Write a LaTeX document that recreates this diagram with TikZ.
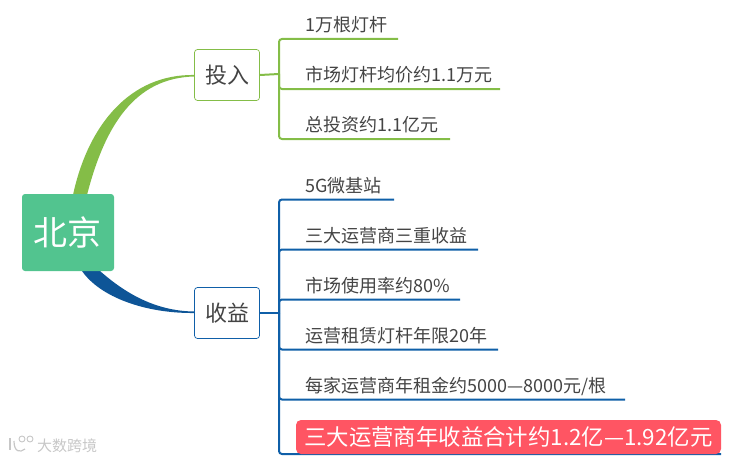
\documentclass[tikz,border=0pt]{standalone}
\usepackage{fontspec}
\usepackage{xcolor}
\setmainfont{Noto Sans CJK SC}
\definecolor{rootgreen}{HTML}{52C48F}
\definecolor{leafgreen}{HTML}{84BD47}
\definecolor{leafblue}{HTML}{0F5FA8}
\definecolor{hotred}{HTML}{FF5563}
\definecolor{inktext}{HTML}{444444}
\tikzset{
  leaf/.style={anchor=base west,inner sep=0pt,outer sep=0pt,text=inktext,font=\fontsize{18pt}{20pt}\selectfont},
  topic/.style={draw,rounded corners=3pt,line width=0.7pt,minimum width=65pt,minimum height=51pt,text=inktext,font=\fontsize{22pt}{24pt}\selectfont},
  link/.style={line width=2pt,rounded corners=3pt}
}
\begin{document}
\begin{tikzpicture}[x=1pt,y=-1pt]
  \useasboundingbox (0,0) rectangle (739,460);
  \node[topic,draw=leafgreen] (input) at (227,75) {投入};
  \node[topic,draw=leafblue] (income) at (227,313) {收益};
  % tapered branches
  \fill[leafgreen] (73,195) .. controls (88,125) and (130,74) .. (input.west) -- ++(0,1.5) .. controls (135,78) and (105,125) .. (87,195) -- cycle;
  \fill[leafblue!90!black] (82,271) .. controls (100,297) and (145,313.5) .. (income.west) -- ++(0,-1.5) .. controls (155,311) and (125,293) .. (100,271) -- cycle;
  \node[fill=rootgreen,rounded corners=3pt,minimum width=92pt,minimum height=77pt,text=white,inner sep=0pt,font=\fontsize{34pt}{38pt}\selectfont] (root) at (68,232.5) {北京};
  % leaves of the first branch
  \coordinate (inputspine) at (279,74);
  \draw[link,leafgreen] (input.east) -- (inputspine);
  \foreach \name/\y/\len/\txt in {a/39/398/{1万根灯杆},b/89/500/{市场灯杆均价约1.1万元},c/139/450/{总投资约1.1亿元}} {
    \node[leaf] (\name) at (305.5,\y-7.5) {\txt};
    \coordinate (\name end) at (\len,\y);
    \draw[link,leafgreen] (inputspine) |- (\name end);
  }
  % leaves of the second branch
  \coordinate (incomespine) at (279,313);
  \draw[link,leafblue] (income.east) -- (incomespine);
  \foreach \name/\y/\len/\txt in {d/199.5/394/{5G微基站},e/249.5/478/{三大运营商三重收益},f/299.5/460/{市场使用率约80\%},g/349.5/498/{运营租赁灯杆年限20年},h/399.5/625/{每家运营商年租金约5000—8000元/根}} {
    \node[leaf] (\name) at (305.5,\y-7.5) {\txt};
    \coordinate (\name end) at (\len,\y);
    \draw[link,leafblue] (incomespine) |- (\name end);
  }
  \coordinate (iend) at (721,454);
  \draw[link,leafblue] (incomespine) |- (iend);
  \node[fill=hotred,rounded corners=5pt,text=white,inner sep=0pt,minimum width=425pt,minimum height=34pt,font=\fontsize{22.4pt}{24pt}\selectfont] (i) at (508.5,437) {三大运营商年收益合计约1.2亿—1.92亿元};
  % watermark
  \node[text=black!22,inner sep=0pt,font=\fontsize{15pt}{17pt}\selectfont] (mark) at (67,446) {大数跨境};
  \draw[black!22,line width=1.2pt] (10,438) -- (10,450);
  \draw[black!22,line width=1.2pt] (14,441) .. controls (14,452) and (20,453) .. (25,449);
  \draw[black!22,line width=0.9pt] (22,439) circle (3pt) (30,439) circle (3pt);
\end{tikzpicture}
\end{document}
